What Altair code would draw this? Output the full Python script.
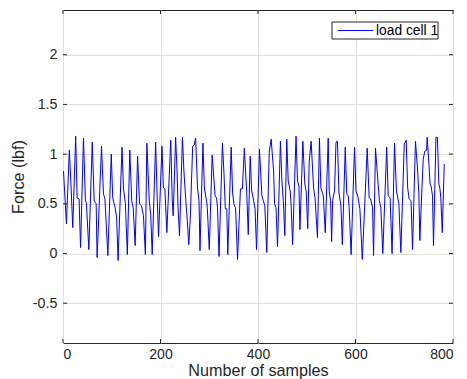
import altair as alt
import pandas as pd

sample_x = [1, 7, 13, 16, 20, 26, 29, 33, 36, 42, 46, 48, 53, 60, 64, 68, 70, 79, 83, 86, 92,
            99, 102, 107, 110, 113, 121, 124, 128, 132, 137, 141, 144, 148, 153, 157, 161, 165, 169,
            172, 177, 180, 183, 190, 193, 196, 203, 206, 209, 213, 221, 224, 226, 231, 234, 236, 239,
            245, 248, 252, 255, 258, 261, 266, 269, 272, 276, 279, 281, 287, 290, 295, 296, 300,
            306, 312, 315, 317, 320, 327, 330, 333, 336, 338, 345, 348, 351, 354, 358, 364, 368,
            372, 377, 380, 384, 387, 390, 394, 397, 403, 408, 411, 414, 418, 423, 427, 432, 434,
            437, 440, 446, 449, 452, 455, 459, 462, 466, 468, 471, 478, 481, 484, 486, 492, 496,
            499, 502, 505, 509, 514, 517, 522, 526, 529, 534, 538, 544, 546, 549, 551, 553, 557,
            560, 563, 566, 570, 573, 579, 582, 585, 587, 591, 598, 601, 605, 609, 614, 624, 628,
            631, 635, 637, 641, 646, 649, 652, 656, 664, 667, 671, 675, 680, 684, 689, 693, 700,
            704, 707, 710, 714, 717, 723, 727, 730, 732, 736, 739, 742, 746, 747, 751, 753, 755,
            758, 760, 765, 768, 771, 773, 775, 778, 782]
force_y = [0.83, 0.30, 1.04, 0.73, 0.26, 1.18, 0.56, 0.55, 0.06, 1.16, 0.53, 0.51, 0.04, 1.12,
           0.53, 0.50, -0.04, 1.08, 0.60, 0.55, -0.02, 1.00, 0.56, 0.46, 0.36, -0.07, 1.07, 0.66,
           0.50, -0.01, 1.04, 0.53, 0.46, 0.08, 0.98, 0.50, 0.48, 0.38, -0.01, 1.11, 0.53, 0.38,
           -0.01, 1.12, 0.60, 0.17, 1.08, 0.66, 0.65, 0.21, 1.14, 0.55, 0.38, 1.17, 0.83, 0.46,
           0.18, 1.17, 0.83, 0.53, 0.33, 0.09, 0.35, 1.08, 1.09, 1.16, 0.66, 0.53, 0.03, 1.11,
           0.66, 0.51, 0.46, 0.04, 0.99, 0.58, 0.56, 0.46, -0.03, 1.11, 0.83, 0.45, 0.45, -0.01,
           1.07, 0.60, 0.49, 0.46, -0.06, 0.65, 0.65, 1.06, 0.60, 0.19, 0.98, 0.63, 0.56, 0.45,
           0.04, 1.05, 0.58, 0.53, 0.48, 0.01, 1.02, 1.15, 0.83, 0.50, 0.46, 0.07, 1.13, 0.73,
           0.53, 0.18, 1.15, 0.73, 0.63, 0.48, 0.09, 1.18, 0.73, 0.68, 0.24, 1.13, 0.70, 0.62,
           0.25, 0.92, 1.13, 0.66, 0.56, 0.16, 1.16, 0.66, 0.58, 0.21, 1.16, 0.63, 0.53, 0.12,
           0.53, 0.63, 1.12, 1.13, 0.61, 0.49, 0.09, 1.07, 0.60, 0.58, 0.46, -0.01, 1.07, 0.63,
           0.57, 0.45, -0.06, 1.06, 0.56, 0.55, 0.46, -0.02, 1.06, 0.73, 0.53, 0.46, 0.00, 1.07,
           0.58, 0.56, 0.00, 1.11, 0.63, 0.50, 0.01, 1.10, 1.14, 0.66, 0.55, 0.53, 0.04, 1.13,
           0.87, 0.60, 0.13, 0.63, 0.95, 1.03, 1.04, 1.17, 0.87, 0.70, 0.68, 0.58, 0.08, 1.17,
           1.17, 0.70, 0.66, 0.56, 0.21, 0.90]
series_name = "load cell 1"
x_ticks = [0, 200, 400, 600, 800]
y_ticks = [-0.5, 0, 0.5, 1, 1.5, 2]

W, H = 390, 333
FONT = "Liberation Sans"
DARK = "#262626"
TICK = 4

df = pd.DataFrame({"x": sample_x, "y": force_y, "series": series_name})
xt = pd.DataFrame({"v": x_ticks})
yt = pd.DataFrame({"v": y_ticks})

xscale = alt.Scale(domain=[0, 800], nice=False, zero=False)
yscale = alt.Scale(domain=[-0.9, 2.45], nice=False, zero=False)

line = alt.Chart(df).mark_line(strokeWidth=1, color="#0000ff", clip=True).encode(
    x=alt.X("x:Q", scale=xscale,
            axis=alt.Axis(values=x_ticks, title="Number of samples", grid=True, ticks=False,
                          domain=False, labelPadding=4, titlePadding=1, labelFontSize=14)),
    y=alt.Y("y:Q", scale=yscale,
            axis=alt.Axis(values=y_ticks, title="Force (lbf)", grid=True, ticks=False,
                          domain=False, labelPadding=6, titlePadding=6,
                          labelExpr="'' + datum.value")),
)

tb = alt.Chart(xt).mark_rule(color=DARK, strokeWidth=1).encode(
    x=alt.X("v:Q", scale=xscale), y=alt.value(0), y2=alt.value(TICK))
bb = alt.Chart(xt).mark_rule(color=DARK, strokeWidth=1).encode(
    x=alt.X("v:Q", scale=xscale), y=alt.value(H - TICK), y2=alt.value(H))
lb = alt.Chart(yt).mark_rule(color=DARK, strokeWidth=1).encode(
    y=alt.Y("v:Q", scale=yscale), x=alt.value(0), x2=alt.value(TICK))
rb = alt.Chart(yt).mark_rule(color=DARK, strokeWidth=1).encode(
    y=alt.Y("v:Q", scale=yscale), x=alt.value(W - TICK), x2=alt.value(W))

leg_df = pd.DataFrame({"label": [series_name]})
leg_box = alt.Chart(leg_df).mark_rect(fill="white", stroke=DARK, strokeWidth=1).encode(
    x=alt.value(269), x2=alt.value(375), y=alt.value(12), y2=alt.value(29))
leg_line = alt.Chart(leg_df).mark_rule(color="#0000ff", strokeWidth=1).encode(
    x=alt.value(275), x2=alt.value(310), y=alt.value(20.5))
leg_text = alt.Chart(leg_df).mark_text(align="left", baseline="middle", font=FONT,
                                       fontSize=13.8, color="black").encode(
    x=alt.value(313), y=alt.value(21), text="label:N")

chart = alt.layer(line, tb, bb, lb, rb, leg_box, leg_line, leg_text).properties(
    width=W, height=H,
    background="white",
    autosize=alt.AutoSizeParams(type="none"),
    padding={"left": 63, "top": 10, "right": 14, "bottom": 36},
).configure_view(
    stroke=DARK, strokeWidth=1
).configure_axis(
    gridColor="#dfdfdf", gridWidth=1,
    labelFont=FONT, labelFontSize=14.3, labelColor=DARK,
    titleFont=FONT, titleFontSize=16.2, titleFontWeight="normal", titleColor=DARK,
)

chart.save("out.html", embed_options={"renderer": "svg", "actions": False})
